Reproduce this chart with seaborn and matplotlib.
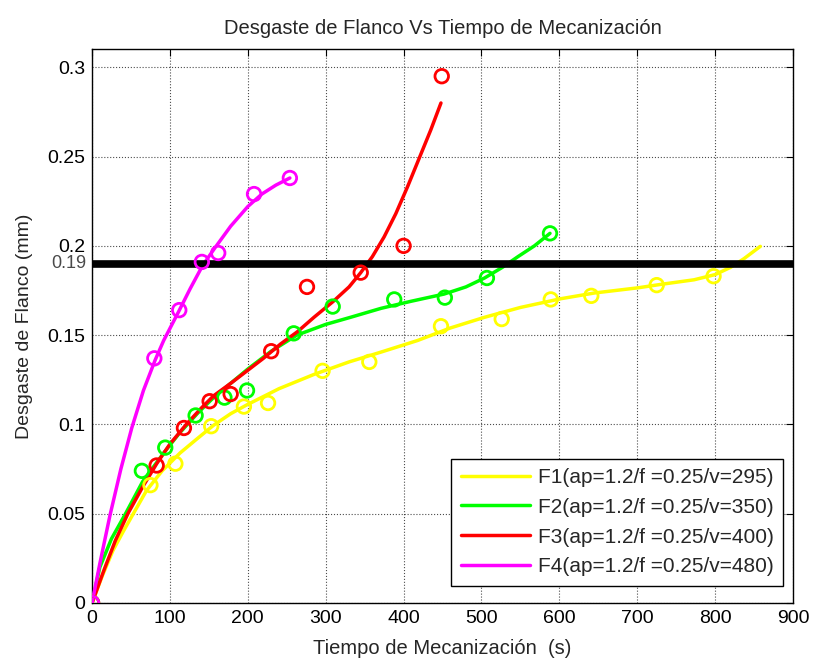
import numpy as np
import pandas as pd
import matplotlib
matplotlib.use("Agg")
import matplotlib.pyplot as plt
import matplotlib.transforms as mtransforms
import seaborn as sns

# measured points (circles)
f1_x = [0, 75, 107, 153, 195, 226, 296, 356, 448, 526, 589, 641, 725, 798]
f1_y = [0, 0.066, 0.078, 0.099, 0.110, 0.112, 0.130, 0.135, 0.155, 0.159, 0.170, 0.172, 0.178, 0.183]

f2_x = [0, 64, 94, 133, 170, 199, 259, 309, 388, 453, 507, 588]
f2_y = [0, 0.074, 0.087, 0.105, 0.115, 0.119, 0.151, 0.166, 0.170, 0.171, 0.182, 0.207]

f3_x = [0, 83, 118, 151, 178, 230, 276, 345, 400, 449]
f3_y = [0, 0.077, 0.098, 0.113, 0.117, 0.141, 0.177, 0.185, 0.200, 0.295]

f4_x = [0, 80, 112, 141, 162, 208, 254]
f4_y = [0, 0.137, 0.164, 0.191, 0.196, 0.229, 0.238]

# fitted curves
c1_x = [0, 13, 27, 40, 53, 70, 90, 113, 135, 156, 178, 199, 240, 285, 330, 371, 418, 460,
        504, 550, 602, 645, 701, 730, 773, 800, 820, 837, 858]
c1_y = [0, 0.015, 0.0295, 0.040, 0.050, 0.063, 0.074, 0.084, 0.092, 0.0995, 0.106, 0.111,
        0.120, 0.128, 0.135, 0.1405, 0.147, 0.154, 0.160, 0.1655, 0.1704, 0.1736, 0.1765,
        0.1784, 0.181, 0.1839, 0.188, 0.1928, 0.1997]

c2_x = [0, 10, 25, 43, 65, 92, 112, 135, 156, 178, 200, 230, 263, 300, 332, 371, 410, 452,
        480, 504, 527, 547, 568, 588]
c2_y = [0, 0.020, 0.036, 0.050, 0.068, 0.084, 0.095, 0.106, 0.115, 0.123, 0.131, 0.141,
        0.150, 0.156, 0.160, 0.165, 0.169, 0.173, 0.177, 0.182, 0.188, 0.194, 0.200, 0.207]

c3_x = [0, 15, 30, 46, 65, 83, 100, 121, 140, 156, 178, 199, 220, 242, 264, 285, 310, 330,
        345, 360, 375, 390, 405, 420, 435, 448]
c3_y = [0, 0.018, 0.035, 0.050, 0.065, 0.078, 0.089, 0.100, 0.109, 0.116, 0.123, 0.130,
        0.137, 0.145, 0.152, 0.160, 0.169, 0.177, 0.185, 0.194, 0.205, 0.218, 0.233, 0.249,
        0.265, 0.280]

c4_x = [0, 10, 23, 37, 51, 66, 81, 92, 111, 126, 142, 158, 178, 200, 218, 236, 254]
c4_y = [0, 0.022, 0.049, 0.075, 0.098, 0.119, 0.136, 0.147, 0.163, 0.176, 0.189, 0.199,
        0.211, 0.222, 0.229, 0.234, 0.238]

labels = ["F1(ap=1.2/f =0.25/v=295)", "F2(ap=1.2/f =0.25/v=350)",
          "F3(ap=1.2/f =0.25/v=400)", "F4(ap=1.2/f =0.25/v=480)"]
colors = ["#ffff00", "#00ff00", "#ff0000", "#ff00ff"]
limit = 0.19

x_ticks = [0, 100, 200, 300, 400, 500, 600, 700, 800, 900]
y_ticks = [0, 0.05, 0.1, 0.15, 0.2, 0.25, 0.3]


def main():
    sns.set_style("white")
    plt.rcParams["font.family"] = ["Liberation Sans", "DejaVu Sans"]

    fig = plt.figure(figsize=(8.13, 6.59), dpi=100)
    ax = fig.add_axes([0.1132, 0.085, 0.8622, 0.84])

    curves = [(c1_x, c1_y), (c2_x, c2_y), (c3_x, c3_y), (c4_x, c4_y)]
    points = [(f1_x, f1_y), (f2_x, f2_y), (f3_x, f3_y), (f4_x, f4_y)]

    for (cx, cy), lab, col in zip(curves, labels, colors):
        df = pd.DataFrame({"t": cx, "vb": cy})
        sns.lineplot(data=df, x="t", y="vb", ax=ax, color=col, lw=2.5,
                     sort=False, estimator=None, label=lab, zorder=3)

    ax.axhline(limit, color="black", lw=5.5, zorder=4)

    for (px, py), col in zip(points, colors):
        sns.scatterplot(x=px, y=py, ax=ax, s=95, facecolors="none",
                        edgecolor=col, linewidth=2, zorder=5)

    ax.set_xlim(0, 900)
    ax.set_ylim(0, 0.31)
    ax.set_xticks(x_ticks)
    ax.set_yticks(y_ticks)
    ax.set_xticklabels([f"{v:g}" for v in x_ticks])
    ax.set_yticklabels([f"{v:g}" for v in y_ticks])
    ax.tick_params(direction="in", length=5, width=0.8, top=True, right=True,
                   labelsize=14, colors="black", pad=5)
    for s in ax.spines.values():
        s.set_color("black")
        s.set_linewidth(1)

    ax.grid(True, color="black", linestyle=":", linewidth=0.8, alpha=0.7)
    ax.set_axisbelow(True)

    trans = mtransforms.blended_transform_factory(ax.transAxes, ax.transData)
    ax.text(-0.008, limit, "0.19", transform=trans, ha="right", va="center",
            fontsize=13, color="#4a4a4a")

    ax.set_title("Desgaste de Flanco Vs Tiempo de Mecanización", fontsize=14.5, pad=11)
    ax.set_xlabel("Tiempo de Mecanización  (s)", fontsize=14.5, labelpad=9)
    ax.set_ylabel("Desgaste de Flanco (mm)", fontsize=14, labelpad=10)

    handles, labs = ax.get_legend_handles_labels()
    leg = ax.legend(handles[:4], labs[:4], loc="lower right", bbox_to_anchor=(0.986, 0.031),
                    borderaxespad=0, fontsize=15, fancybox=False, framealpha=1,
                    edgecolor="black", handlelength=3.3, labelspacing=0.52,
                    handletextpad=0.4, borderpad=0.45)
    leg.get_frame().set_linewidth(1)
    leg.set_zorder(10)

    fig.savefig("out.png", dpi=100)


if __name__ == "__main__":
    main()
